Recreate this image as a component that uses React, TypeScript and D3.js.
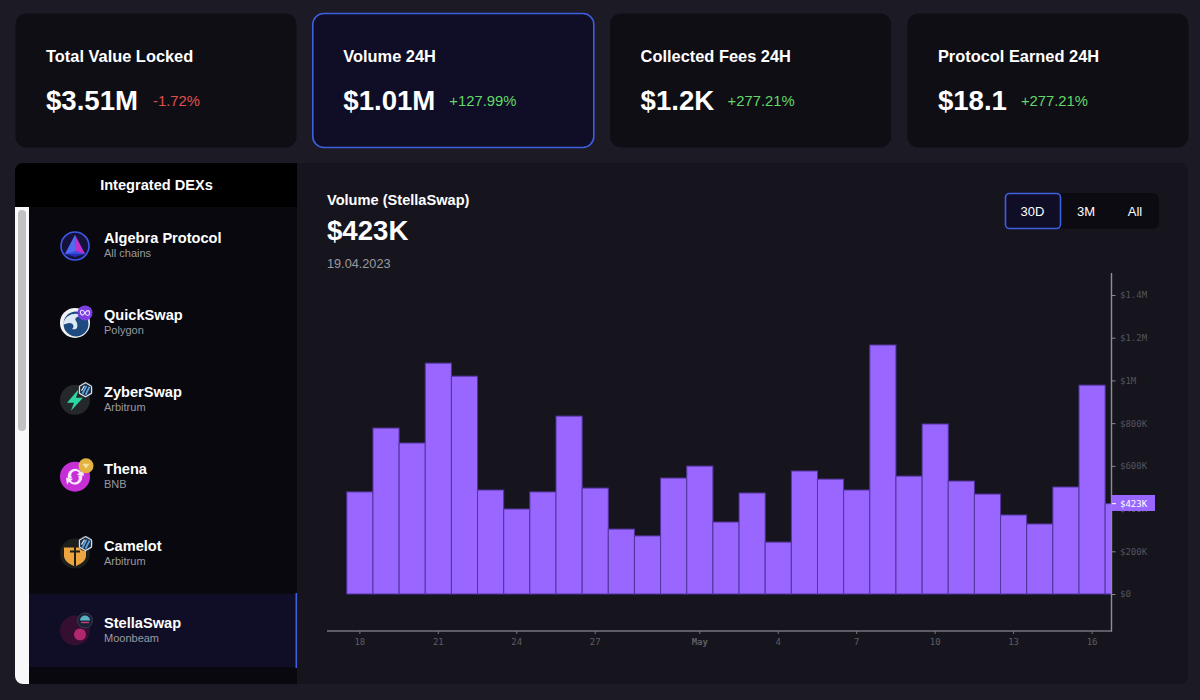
import React, { useEffect, useRef } from "react"
import * as d3 from "d3"

// ---------- Data ----------
const cardTitles = ["Total Value Locked", "Volume 24H", "Collected Fees 24H", "Protocol Earned 24H"]
const cardValues = ["$3.51M", "$1.01M", "$1.2K", "$18.1"]
const cardChanges = ["-1.72%", "+127.99%", "+277.21%", "+277.21%"]

const dexNames = ["Algebra Protocol", "QuickSwap", "ZyberSwap", "Thena", "Camelot", "StellaSwap"]
const dexChains = ["All chains", "Polygon", "Arbitrum", "BNB", "Arbitrum", "Moonbeam"]

const ranges = ["30D", "3M", "All"]

// one bar per day, 18 Apr to 17 May
const days = d3.range(30).map(i => new Date(2023, 3, 18 + i))
const volumes = [
  478000, 777000, 707000, 1081000, 1020000, 487000, 398000, 478000, 833000, 496000,
  304000, 272000, 543000, 599000, 337000, 473000, 243000, 576000, 538000, 487000,
  1166000, 552000, 796000, 529000, 468000, 370000, 328000, 501000, 978000, 423000,
]

const yTicks = [0, 200000, 400000, 600000, 800000, 1000000, 1200000, 1400000]
const xTickDays = [0, 3, 6, 9, 13, 16, 19, 22, 25, 28]

const PAGE = "#1b1a25"
const CARD = "#0f0e15"
const PURPLE = "#9966ff"
const BLUE = "#3d5fe0"
const SANS = "'Liberation Sans', Arial, sans-serif"
const MONO = "'DejaVu Sans Mono', monospace"

// ---------- Scales ----------
const x = d3.scaleBand<number>().domain(d3.range(30)).range([346.8, 346.8 + 30 * 26.15]).padding(0)
const y = d3.scaleLinear().domain([0, 1400000]).range([594, 295])

const formatTick = (v: number) => {
  if (v === 0) return "$0"
  if (v >= 1000000) return `$${v / 1000000}M`
  return `$${v / 1000}K`
}

const formatDay = (i: number) => {
  const d = days[i]
  return d.getDate() === 1 ? d3.timeFormat("%b")(d) : String(d.getDate())
}

// ---------- Logos ----------
const ArbBadge = () => (
  <g transform="translate(10.5,-10)">
    <circle r="7.5" fill="#2b3442" />
    <path d="M0,-7 L6,-3.5 L6,3.5 L0,7 L-6,3.5 L-6,-3.5 Z" fill="#1d2b3e" stroke="#d5dde6" strokeWidth="1.2" />
    <path d="M-3,4 L1,-4 M0,5 L4,-3" stroke="#5aa7e8" strokeWidth="1.8" />
    <path d="M-4,1 L-1,-4" stroke="#e8edf2" strokeWidth="1.2" />
  </g>
)

const Logo = ({ index }: { index: number }) => {
  if (index === 0) {
    return (
      <g>
        <circle r="14" fill="#14123a" stroke="#3f58e8" strokeWidth="1.6" />
        <path d="M0,-11 L10,8 L-10,8 Z" fill="#3a4be0" />
        <path d="M0,-11 L10,8 L1,5 Z" fill="#c22fc9" />
        <path d="M0,-11 L1,5 L-10,8 Z" fill="#4f6bf0" />
        <path d="M-10,8 L10,8 L0,11 Z" fill="#2230b0" />
      </g>
    )
  }
  if (index === 1) {
    return (
      <g>
        <circle r="15" fill="#f2f5f8" />
        <circle r="12.5" cx="1" cy="1" fill="#1f4a80" />
        <path d="M-12,2 C-10,-10 2,-11 8,-7 C2,-7 -1,-5 1,-2 C4,3 2,8 -3,6 C0,4 -2,0 -5,0 C-8,0 -10,1 -12,2 Z" fill="#dce8f3" />
        <circle cx="10" cy="-10" r="7.5" fill="#7b3fe4" />
        <path d="M10,-10 C8,-14 5,-13 5.5,-10 C6,-7 8,-7 10,-10 C12,-13 14.5,-13 14.5,-10 C14.5,-7 12,-6 10,-10 Z" fill="none" stroke="#e9dcff" strokeWidth="1.1" />
      </g>
    )
  }
  if (index === 2) {
    return (
      <g>
        <circle r="15" fill="#24282a" />
        <path d="M4,-11 L-8,3 L-1,3 L-4,11 L8,-2 L1,-2 Z" fill="#2fd6a5" />
        <ArbBadge />
      </g>
    )
  }
  if (index === 3) {
    return (
      <g>
        <circle r="15" fill="#c72fd6" />
        <path d="M-7,2 A7.5,7.5 0 0 1 6,-5 L8,-8 L9,-1 L2,-2 L4,-4 A4,4 0 0 0 -3,1 Z" fill="#f6e8f8" />
        <path d="M7,-2 A7.5,7.5 0 0 1 -6,5 L-8,8 L-9,1 L-2,2 L-4,4 A4,4 0 0 0 3,-1 Z" fill="#f6e8f8" />
        <circle cx="11" cy="-11" r="7.5" fill="#e3b341" />
        <path d="M7.5,-13 L14.5,-13 L11,-8 Z" fill="#f5dfa0" />
      </g>
    )
  }
  if (index === 4) {
    return (
      <g>
        <circle r="15" fill="#1d1f1d" />
        <path d="M-11,-6 L11,-6 L11,3 C10,9 4,11 0,13 C-4,11 -10,9 -11,3 Z" fill="#eda63f" />
        <path d="M0,-12 L0,13 M-5,-2 L5,-2" stroke="#1d1f1d" strokeWidth="2" />
        <ArbBadge />
      </g>
    )
  }
  return (
    <g>
      <circle r="15" fill="#3a1034" />
      <circle cx="5" cy="4" r="6" fill="#c22a78" />
      <circle cx="10" cy="-10" r="7.5" fill="#1d2238" stroke="#3c4258" strokeWidth="1" />
      <path d="M5,-10 A5,5 0 0 1 15,-10 Z" fill="#64c4d6" />
      <path d="M6,-8 L14,-8" stroke="#d34a7e" strokeWidth="1.4" />
    </g>
  )
}

// ---------- Component ----------
const App: React.FC = () => {
  const xAxisRef = useRef<SVGGElement>(null)
  const yAxisRef = useRef<SVGGElement>(null)

  useEffect(() => {
    if (!xAxisRef.current || !yAxisRef.current) return

    const xAxis = d3.axisBottom(x)
      .tickValues(xTickDays)
      .tickFormat(d => formatDay(d as number))
      .tickSize(3)
      .tickPadding(5)
      .tickSizeOuter(0)
    const gx = d3.select(xAxisRef.current).call(xAxis)
    gx.select(".domain").remove()
    gx.selectAll("line").attr("stroke", "#77767e")
    gx.selectAll("text")
      .attr("fill", "#5e5d66")
      .attr("font-size", "9px")
      .attr("font-family", MONO)
      .attr("font-weight", (_, i) => (xTickDays[i] === 13 ? "bold" : "normal"))

    const yAxis = d3.axisRight(y)
      .tickValues(yTicks)
      .tickFormat(d => formatTick(d as number))
      .tickSize(4)
      .tickPadding(4.5)
    const gy = d3.select(yAxisRef.current).call(yAxis)
    gy.select(".domain").remove()
    gy.selectAll("line").attr("stroke", "#8a8990")
    gy.selectAll("text")
      .attr("fill", "#55545c")
      .attr("font-size", "9px")
      .attr("font-family", MONO)
  }, [])

  const lastValue = volumes[volumes.length - 1]

  return (
    <svg
      width={1200}
      height={700}
      viewBox="0 0 1200 700"
      style={{ position: "absolute", left: 0, top: 0, display: "block" }}
    >
      <defs>
        <clipPath id="panelClip">
          <rect x={15} y={163} width={1173} height={521} rx={8} />
        </clipPath>
        <clipPath id="plotClip">
          <rect x={327} y={273} width={784.5} height={358} />
        </clipPath>
      </defs>

      <rect width={1200} height={700} fill={PAGE} />

      {/* Stat cards */}
      {cardTitles.map((title, i) => {
        const left = 15 + i * 297.3
        const active = i === 1
        const change = cardChanges[i]
        return (
          <g key={title}>
            <rect
              x={left + 0.5}
              y={13.5}
              width={281}
              height={134}
              rx={11}
              fill={active ? "#100e26" : CARD}
              stroke={active ? BLUE : "none"}
              strokeWidth={1.6}
            />
            <text x={left + 31} y={62} fill="#fff" fontFamily={SANS} fontWeight={700} fontSize={16.4}>
              {title}
            </text>
            <text x={left + 31} y={110} fill="#fff" fontFamily={SANS} fontWeight={700} fontSize={27.6}>
              {cardValues[i]}
            </text>
            <text
              x={left + 31 + [107, 106, 87, 83][i]}
              y={106}
              fill={change.startsWith("-") ? "#e04f4f" : "#63d868"}
              fontFamily={SANS}
              fontSize={14.8}
            >
              {change}
            </text>
          </g>
        )
      })}

      {/* Main panel */}
      <g clipPath="url(#panelClip)">
        <rect x={15} y={163} width={1173} height={521} fill="#16151d" />
        <rect x={15} y={163} width={282} height={44} fill="#000" />
        <rect x={15} y={207} width={282} height={477} fill="#08080e" />
        <rect x={15} y={207} width={14} height={477} fill="#f8f8fa" />
        <rect x={18} y={210} width={8} height={221} rx={4} fill="#c1c1c1" />
        <rect x={29} y={594} width={268} height={73} fill="#100e26" />
        <rect x={295.5} y={593} width={1.6} height={75} fill={BLUE} />
      </g>
      <text x={156.5} y={190} textAnchor="middle" fill="#fff" fontFamily={SANS} fontWeight={700} fontSize={14.6}>
        Integrated DEXs
      </text>

      {/* DEX list */}
      {dexNames.map((name, i) => {
        const rowY = 246 + i * 76.9
        return (
          <g key={name}>
            <g transform={`translate(75,${rowY})`} opacity={i === 5 ? 0.9 : 1}>
              <Logo index={i} />
            </g>
            <text x={104} y={rowY - 3} fill="#fff" fontFamily={SANS} fontWeight={700} fontSize={14.6}>
              {name}
            </text>
            <text x={104} y={rowY + 11} fill="#9a9aa2" fontFamily={SANS} fontSize={11}>
              {dexChains[i]}
            </text>
          </g>
        )
      })}

      {/* Chart header */}
      <text x={327} y={205} fill="#fff" fontFamily={SANS} fontWeight={700} fontSize={14.6}>
        Volume (StellaSwap)
      </text>
      <text x={327} y={240} fill="#fff" fontFamily={SANS} fontWeight={700} fontSize={27.6}>
        $423K
      </text>
      <text x={327} y={268} fill="#9a9aa0" fontFamily={SANS} fontSize={12.7}>
        19.04.2023
      </text>

      {/* Range switch */}
      <rect x={1005} y={193} width={154} height={36} rx={6} fill="#0c0b12" />
      <rect x={1005.5} y={193.5} width={55} height={35} rx={4} fill="#100e26" stroke={BLUE} strokeWidth={1.6} />
      {ranges.map((r, i) => (
        <text
          key={r}
          x={[1032.5, 1086, 1135][i]}
          y={215.5}
          textAnchor="middle"
          fill="#fff"
          fontFamily={SANS}
          fontSize={13}
        >
          {r}
        </text>
      ))}

      {/* Bars */}
      <g clipPath="url(#plotClip)">
        {volumes.map((v, i) => (
          <rect
            key={i}
            x={x(i)!}
            y={y(v)}
            width={x.bandwidth()}
            height={y(0) - y(v)}
            fill={PURPLE}
            stroke="#53349c"
            strokeWidth={1}
          />
        ))}
      </g>

      {/* Axes */}
      <g ref={yAxisRef} transform="translate(1111.5,0)" />
      <g ref={xAxisRef} transform="translate(0,631)" />
      <line x1={327} x2={1112} y1={631} y2={631} stroke="#77767e" strokeWidth={1.4} />
      <line x1={1111.5} x2={1111.5} y1={273} y2={631.5} stroke="#8f8e95" strokeWidth={1.4} />

      {/* Last value marker */}
      <rect x={1112} y={495} width={43} height={16} fill={PURPLE} />
      <line x1={1112} x2={1116} y1={y(lastValue)} y2={y(lastValue)} stroke="#fff" strokeWidth={1} />
      <text x={1120} y={y(lastValue) + 3.2} fill="#fff" fontFamily={MONO} fontSize={9}>
        {formatTick(lastValue)}
      </text>
    </svg>
  )
}

export default App
